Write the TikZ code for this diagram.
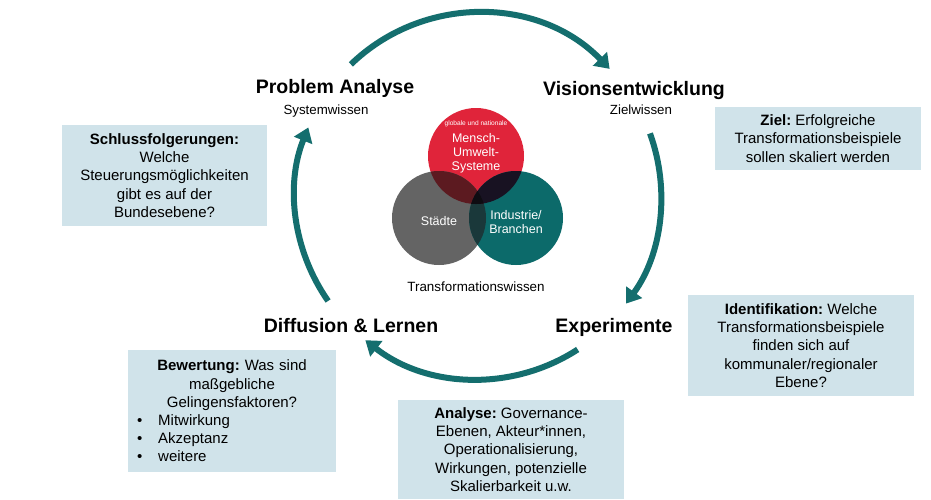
\documentclass[tikz,border=0pt]{standalone}
\usepackage{fontspec}
\setmainfont{Liberation Sans}
\usetikzlibrary{arrows.meta,calc}
\definecolor{arrowteal}{RGB}{20,110,110}
\definecolor{boxblue}{RGB}{208,227,234}
\definecolor{vred}{RGB}{224,36,58}
\definecolor{vgray}{RGB}{100,100,100}
\definecolor{vteal}{RGB}{12,106,106}
\definecolor{vrg}{RGB}{92,26,32}
\definecolor{vrt}{RGB}{24,18,34}
\definecolor{vgt}{RGB}{26,56,58}
\definecolor{vrgt}{RGB}{14,12,18}
\newcommand\setfs[2]{\fontsize{#1}{#2}\selectfont}
\frenchspacing
\begin{document}
\frenchspacing
\begin{tikzpicture}[x=1pt,y=-1pt,
  infobox/.style={fill=boxblue, draw=none, inner sep=0pt, align=center, font=\frenchspacing\setfs{15}{18.2}},
  phase/.style={font=\bfseries\setfs{19.5}{22}, anchor=base, inner sep=0pt},
  knowl/.style={font=\setfs{13.3}{16}, anchor=base, inner sep=0pt},
  venntxt/.style={text=white, align=center, inner sep=0pt},
  cyc/.style={draw=arrowteal, line width=6pt, -{Triangle[width=19pt,length=14pt]}}]
\useasboundingbox (0,0) rectangle (931,499);
\fill[white] (0,0) rectangle (931,499);

% cycle arrows
\coordinate (c) at (478,196);
\draw[cyc] ($(c)+(226:183)$) arc[start angle=226, end angle=316, radius=183];
\draw[cyc] ($(c)+(340:183)$) arc[start angle=340, end angle=396, radius=183];
\draw[cyc] ($(c)+(57:183)$) arc[start angle=57, end angle=128, radius=183];
\draw[cyc] ($(c)+(145:183)$) arc[start angle=145, end angle=202, radius=183];

% phase titles
\node[phase] (pa) at (335,93) {Problem Analyse};
\node[knowl] (pak) at (326,114) {Systemwissen};
\node[phase] (ve) at (634,95) {Visionsentwicklung};
\node[knowl] (vek) at (641,114) {Zielwissen};
\node[phase] (dl) at (351,332) {Diffusion \& Lernen};
\node[phase] (ex) at (614,332) {Experimente};

% venn
\fill[vred] (476,156) circle[radius=48];
\fill[vgray] (439,218) circle[radius=47];
\fill[vteal] (516,218) circle[radius=47];
\begin{scope}
  \clip (439,218) circle[radius=47];
  \fill[vgt] (516,218) circle[radius=47];
\end{scope}
\begin{scope}
  \clip (476,156) circle[radius=48];
  \fill[vrg] (439,218) circle[radius=47];
  \fill[vrt] (516,218) circle[radius=47];
  \clip (439,218) circle[radius=47];
  \fill[vrgt] (516,218) circle[radius=47];
\end{scope}
\node[venntxt, font=\setfs{6.6}{8}] (glob) at (476,124) {globale und nationale};
\node[venntxt, font=\setfs{12.5}{14}] (mus) at (476,153) {Mensch-\\Umwelt-\\Systeme};
\node[venntxt, font=\setfs{12.5}{14}] (st) at (439,221) {Städte};
\node[venntxt, font=\setfs{12.5}{14}] (ib) at (516,222) {Industrie/\\Branchen};
\node[font=\setfs{13.4}{16}, inner sep=0pt] (tw) at (476,287) {Transformationswissen};

% info boxes
\node[infobox, minimum width=205pt, minimum height=101pt] (schluss) at (164.5,175.5)
  {\textbf{Schlussfolgerungen:}\\Welche\\Steuerungsmöglichkeiten\\gibt es auf der\\Bundesebene?};
\node[infobox, minimum width=206pt, minimum height=63pt] (ziel) at (818,138.5)
  {\textbf{Ziel:} Erfolgreiche\\Transformationsbeispiele\\sollen skaliert werden};
\node[infobox, minimum width=226pt, minimum height=101pt] (ident) at (801,345.5)
  {\textbf{Identifikation:} Welche\\Transformationsbeispiele\\finden sich auf\\kommunaler/regionaler\\Ebene?};
\node[infobox, minimum width=208pt, minimum height=122pt, text width=198pt] (bew) at (232,411)
  {\textbf{Bewertung:} Was sind\\maßgebliche\\Gelingensfaktoren?\\
   \makebox[198pt][l]{\hspace{4pt}•\hspace{16pt}Mitwirkung}\\
   \makebox[198pt][l]{\hspace{4pt}•\hspace{16pt}Akzeptanz}\\
   \makebox[198pt][l]{\hspace{4pt}•\hspace{16pt}weitere}};
\node[infobox, minimum width=226pt, minimum height=99pt] (ana) at (511,449.5)
  {\textbf{Analyse:} Governance-\\Ebenen, Akteur*innen,\\Operationalisierung,\\Wirkungen, potenzielle\\Skalierbarkeit u.w.};
\end{tikzpicture}
\end{document}
